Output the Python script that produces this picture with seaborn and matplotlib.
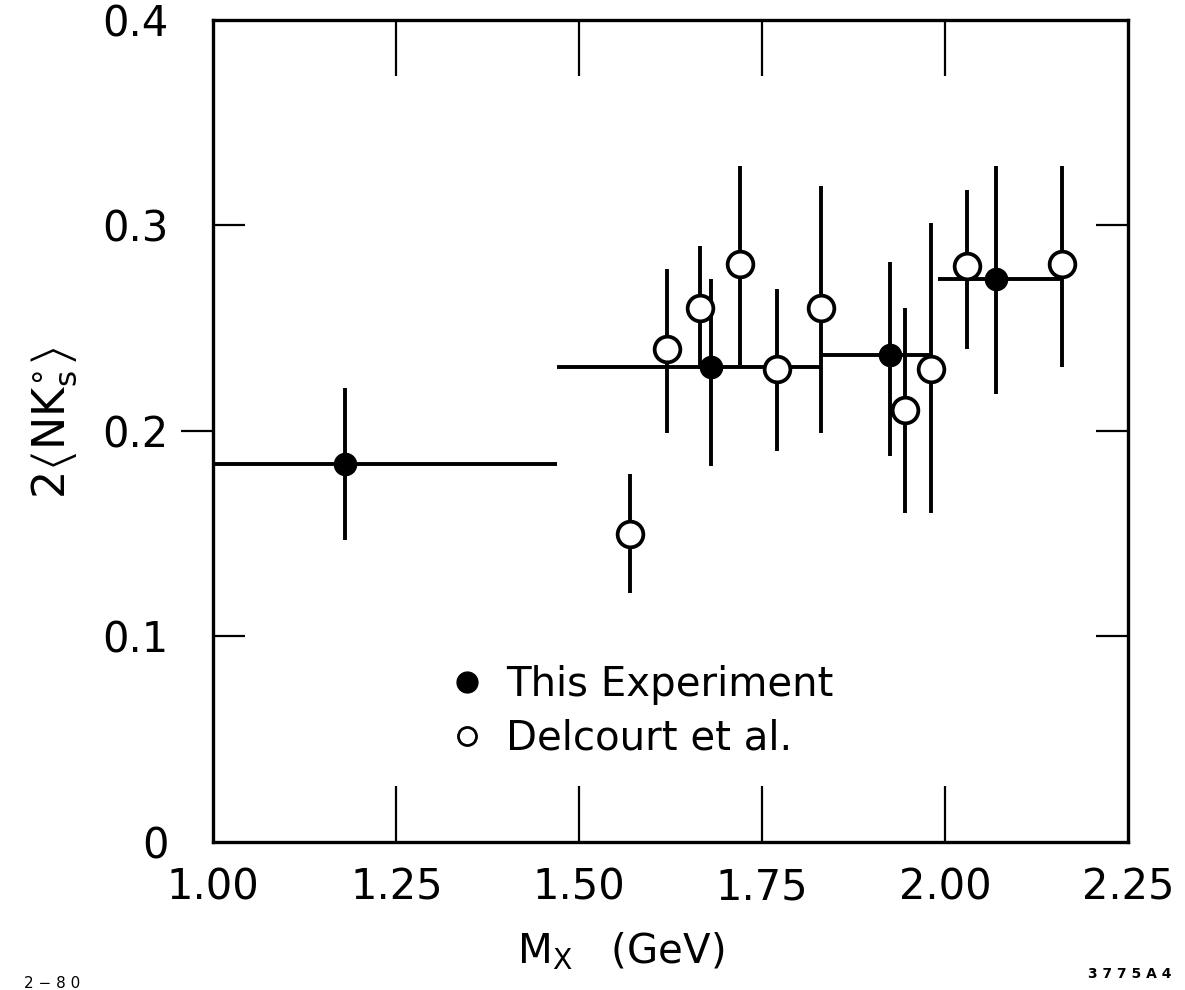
import numpy as np
import pandas as pd
import matplotlib
matplotlib.use("Agg")
import matplotlib.pyplot as plt
import matplotlib.lines as mlines
import seaborn as sns

# ---- data: This Experiment (filled) ----
this_x = [1.18, 1.68, 1.925, 2.07]
this_y = [0.184, 0.231, 0.237, 0.274]
this_ylo = [0.147, 0.183, 0.188, 0.218]
this_yhi = [0.221, 0.274, 0.282, 0.329]
this_xlo = [1.00, 1.47, 1.83, 1.99]
this_xhi = [1.47, 1.83, 1.98, 2.16]

# ---- data: Delcourt et al. (open) ----
del_x = [1.57, 1.62, 1.665, 1.72, 1.77, 1.83, 1.945, 1.98, 2.03, 2.16]
del_y = [0.150, 0.240, 0.260, 0.281, 0.230, 0.260, 0.210, 0.230, 0.280, 0.281]
del_ylo = [0.121, 0.199, 0.230, 0.232, 0.190, 0.199, 0.160, 0.160, 0.240, 0.231]
del_yhi = [0.179, 0.279, 0.290, 0.329, 0.269, 0.319, 0.260, 0.301, 0.317, 0.329]

x_ticks = [1.00, 1.25, 1.50, 1.75, 2.00, 2.25]
x_ticklabels = ["1.00", "1.25", "1.50", "1.75", "2.00", "2.25"]
y_ticks = [0, 0.1, 0.2, 0.3, 0.4]
y_ticklabels = ["0", "0.1", "0.2", "0.3", "0.4"]

legend_labels = ["This Experiment", "Delcourt et al."]

sns.set_theme(style="ticks")
plt.rcParams["font.family"] = ["DejaVu Sans"]
plt.rcParams["mathtext.fontset"] = "dejavusans"
plt.rcParams["text.color"] = "black"
plt.rcParams["axes.labelcolor"] = "black"

fig = plt.figure(figsize=(11.85, 9.9), dpi=100)
ax = fig.add_axes([0.18, 0.1495, 0.772, 0.8305])

df_this = pd.DataFrame({"x": this_x, "y": this_y})
df_del = pd.DataFrame({"x": del_x, "y": del_y})

tx = np.array(this_x); ty = np.array(this_y)
ax.errorbar(tx, ty,
            yerr=[ty - np.array(this_ylo), np.array(this_yhi) - ty],
            xerr=[tx - np.array(this_xlo), np.array(this_xhi) - tx],
            fmt="none", ecolor="black", elinewidth=2.8, capsize=0, zorder=2)
dx = np.array(del_x); dy = np.array(del_y)
ax.errorbar(dx, dy,
            yerr=[dy - np.array(del_ylo), np.array(del_yhi) - dy],
            fmt="none", ecolor="black", elinewidth=2.8, capsize=0, zorder=2)

sns.scatterplot(data=df_this, x="x", y="y", ax=ax, marker="o", s=17**2,
                color="black", edgecolor="black", linewidth=0, zorder=4,
                legend=False)
sns.scatterplot(data=df_del, x="x", y="y", ax=ax, marker="o", s=18.5**2,
                facecolor="white", edgecolor="black", linewidth=2.7, zorder=3,
                legend=False)

ax.set_xlim(1.0, 2.25)
ax.set_ylim(0, 0.4)
ax.set_xticks(x_ticks)
ax.set_xticklabels(x_ticklabels)
ax.set_yticks(y_ticks)
ax.set_yticklabels(y_ticklabels)

for s in ax.spines.values():
    s.set_visible(True)
    s.set_linewidth(2.4)
    s.set_color("black")

ax.tick_params(axis="x", which="major", direction="in", length=40, width=1.6,
               top=True, bottom=True, labelsize=30, pad=18, colors="black")
ax.tick_params(axis="y", which="major", direction="in", length=23, width=1.6,
               left=True, right=True, labelsize=30, pad=32, colors="black")
for t in [ax.xaxis.get_major_ticks()[0], ax.xaxis.get_major_ticks()[-1]]:
    t.tick1line.set_visible(False); t.tick2line.set_visible(False)
for t in [ax.yaxis.get_major_ticks()[0], ax.yaxis.get_major_ticks()[-1]]:
    t.tick1line.set_visible(False); t.tick2line.set_visible(False)
# 0.2 tick on the left points outward
ax.yaxis.get_major_ticks()[2].tick1line.set_marker(mlines.TICKLEFT)

ax.set_xlabel(r"$\mathrm{M_X}$   (GeV)", fontsize=29, color="black")
ax.xaxis.set_label_coords(0.445, -0.108)
ax.set_ylabel(r"$2\left\langle\mathrm{NK}^{\circ}_{\mathrm{s}}\right\rangle$",
              fontsize=32, color="black")
ax.yaxis.set_label_coords(-0.146, 0.51)

h1 = mlines.Line2D([], [], marker="o", linestyle="none", markersize=15,
                   markerfacecolor="black", markeredgecolor="black")
h2 = mlines.Line2D([], [], marker="o", linestyle="none", markersize=13,
                   markerfacecolor="white", markeredgecolor="black",
                   markeredgewidth=2.0)
leg = ax.legend(handles=[h1, h2], labels=legend_labels, loc="upper left",
                bbox_to_anchor=(0.225, 0.25), frameon=False, fontsize=29,
                handletextpad=0.45, labelspacing=0.35, handlelength=1.0,
                borderpad=0.2)
for txt in leg.get_texts():
    txt.set_color("black")

fig.text(0.02, 0.002, "2 − 8 0", fontsize=11, color="black")
fig.text(0.918, 0.012, "3 7 7 5 A 4", fontsize=10, fontweight="bold",
         color="black")

fig.savefig("out.png", dpi=100, facecolor="white")
